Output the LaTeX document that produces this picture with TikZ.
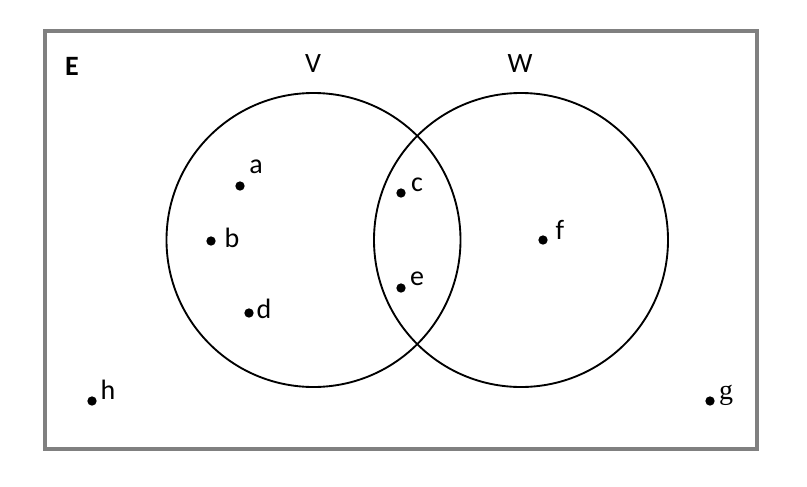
\documentclass[tikz,border=0pt]{standalone}
\usepackage{fontspec}
\setmainfont{Carlito}
\newfontfamily\serifg{Liberation Serif}
\usetikzlibrary{positioning}

\begin{document}
\begin{tikzpicture}[
    x=0.75pt, y=-0.75pt,
    frame/.style={draw=gray, line width=3pt},
    set/.style={draw=black, line width=1.4pt},
    dot/.style={circle, fill=black, inner sep=0pt, minimum size=7pt},
    lbl/.style={inner sep=0pt, font=\fontsize{21}{25}\selectfont},
]
\useasboundingbox (0,0) rectangle (807,486);

% Universe
\draw[frame] (45,31) rectangle (757,449);
\node[lbl, font=\fontsize{21}{25}\selectfont\bfseries] (E) at (72,66) {E};

% Sets
\draw[set] (313.5,240) circle (147);
\draw[set] (521,240) circle (147);
\node[lbl] (V) at (313,64) {V};
\node[lbl] (W) at (520,64) {W};

% Elements
\node[dot] (a) at (240,186) {};
\node[dot] (b) at (211,241) {};
\node[dot] (c) at (401,193) {};
\node[dot] (d) at (249,313) {};
\node[dot] (e) at (401,288) {};
\node[dot] (f) at (543,240) {};
\node[dot] (h) at (92,401) {};
\node[dot] (g) at (710,401) {};

\node[lbl] (la) at (256,167) {a};
\node[lbl] (lb) at (232,238) {b};
\node[lbl] (lc) at (417,185) {c};
\node[lbl] (ld) at (264,309) {d};
\node[lbl] (le) at (417,279) {e};
\node[lbl] (lf) at (560,230) {f};
\node[lbl] (lh) at (108,390) {h};
\node[lbl, font=\fontsize{21}{25}\serifg] (lg) at (726,395) {g};

\end{tikzpicture}
\end{document}
